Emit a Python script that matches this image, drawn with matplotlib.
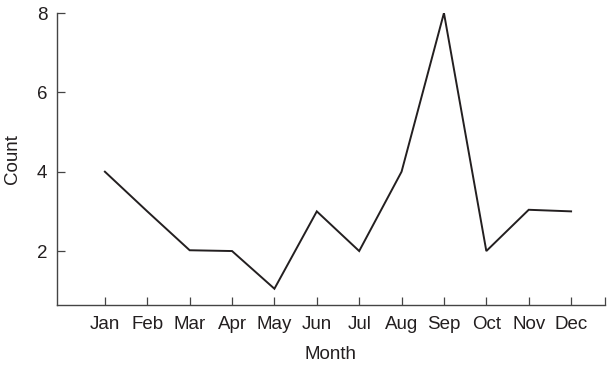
import matplotlib
matplotlib.use("Agg")
import matplotlib.pyplot as plt

months = ["Jan", "Feb", "Mar", "Apr", "May", "Jun", "Jul", "Aug", "Sep", "Oct", "Nov", "Dec"]
counts = [4, 3, 2.02, 2, 1.05, 3, 2, 4, 8, 2, 3.04, 3]
yticks = [2, 4, 6, 8]

plt.rcParams['font.family'] = ['Liberation Sans', 'DejaVu Sans']
col = '#231f20'

fig = plt.figure(figsize=(6.14, 3.67), dpi=100)
ax = fig.add_axes([57/614, 1-305/367, (605-57)/614, (305-13)/367])
x = list(range(len(months)))
ax.plot(x, counts, color=col, lw=1.4, solid_joinstyle='miter')

ax.set_xlim(-1.13, 11.8)
ax.set_ylim(0.64, 8)
ax.set_xticks(x + [11.8])
ax.set_xticklabels(months + [""])
ax.set_yticks(yticks)
ax.set_yticklabels([str(v) for v in yticks])
ax.tick_params(direction='in', length=5.5, width=0.9, color='#444444', labelsize=13.5, labelcolor=col, pad=8)
ax.tick_params(axis='y', pad=7)
for s in ['top', 'right']:
    ax.spines[s].set_visible(False)
for s in ['left', 'bottom']:
    ax.spines[s].set_linewidth(1.0)
    ax.spines[s].set_color('#444444')
ax.set_xlabel('Month', fontsize=13.5, color=col, labelpad=9)
ax.set_ylabel('Count', fontsize=13.5, color=col, labelpad=11)
fig.savefig('out.png', dpi=100)
